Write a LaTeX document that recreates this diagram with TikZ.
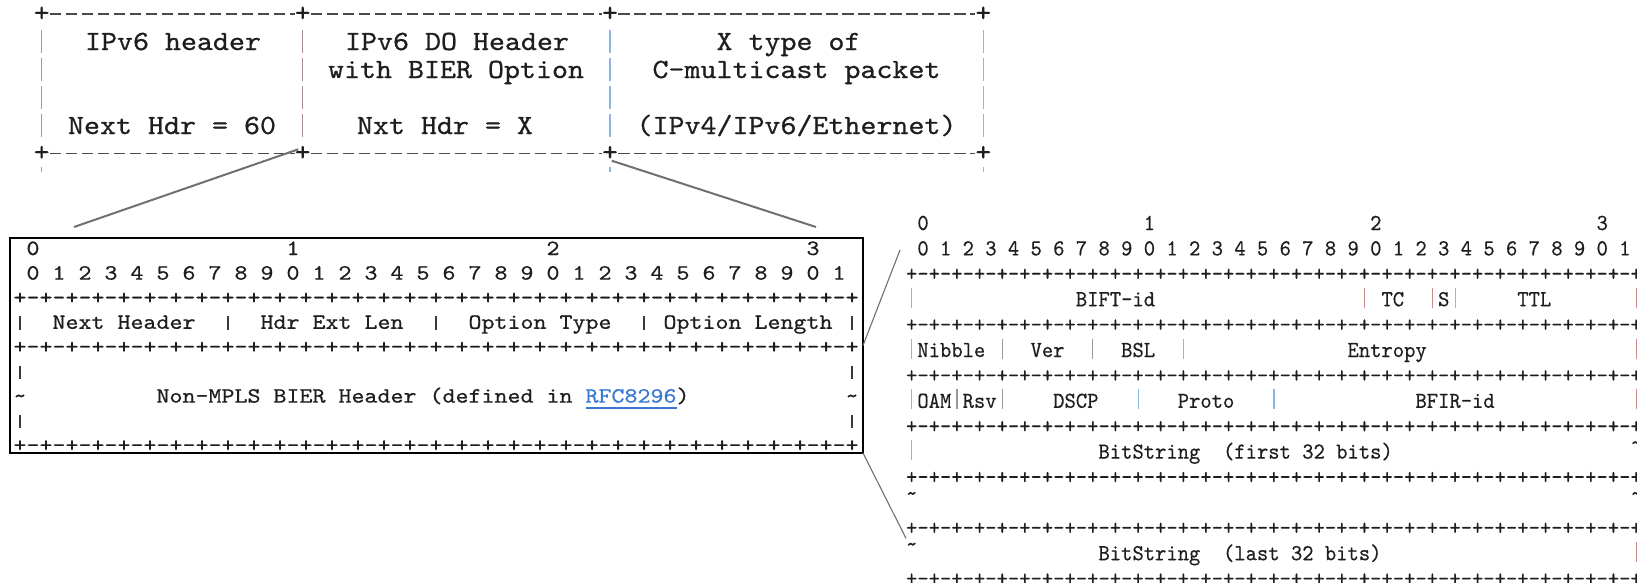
\documentclass[tikz,border=0pt]{standalone}
\usepackage{fontspec}
\newfontfamily\topfont[Extension=.otf, FakeStretch=1.096, FakeBold=0.7]{lmmono10-regular}
\newfontfamily\midfont[Extension=.otf, FakeStretch=1.136, FakeBold=0.7]{lmmono10-regular}
\newfontfamily\rtfont[Extension=.otf, FakeStretch=0.9415, FakeBold=0.4]{lmmono10-regular}
\definecolor{txt}{HTML}{1E1E1E}
\definecolor{rulec}{HTML}{4A4A4A}
\definecolor{conn}{HTML}{707070}
\definecolor{link}{HTML}{3A78D4}
\definecolor{barR}{HTML}{C98A8A}
\definecolor{barP}{HTML}{A88A9E}
\definecolor{barB}{HTML}{8FB6E4}
\definecolor{barT}{HTML}{D8A66E}
\definecolor{barG}{HTML}{9A9A9A}
\definecolor{barM}{HTML}{3A3A3A}
\tikzset{
  ttxt/.style={inner sep=0pt, outer sep=0pt, text=txt, font=\fontsize{27.8}{32}\topfont},
  mtxt/.style={anchor=base west, inner sep=0pt, outer sep=0pt, text=txt, font=\fontsize{21.8}{26}\midfont},
  rtxt/.style={anchor=base west, inner sep=0pt, outer sep=0pt, text=txt, font=\fontsize{22.9}{26}\rtfont},
  toprule/.style={draw=rulec, line width=1.6pt, dash pattern=on 11.5pt off 4.5pt},
  bigconn/.style={draw=conn, line width=2pt},
  smallconn/.style={draw=conn, line width=1.1pt},
  vbar/.style={line width=1.3pt},
  rbar/.style={line width=1.1pt},
  boxframe/.style={draw=black, line width=1.8pt, inner sep=0pt, outer sep=0pt, anchor=north west},
}
\newcounter{tn}
\newcommand\Mt[3]{\stepcounter{tn}\node[mtxt] (m\arabic{tn}) at ({13.5+(#1)*13},{255+(#2)*24.6}) {#3};}
\newcommand\Rt[3]{\stepcounter{tn}\node[rtxt] (r\arabic{tn}) at ({906.04+(#1)*11.32},{230+(#2)*25.4}) {#3};}
\newcommand\Mb[2]{\draw[vbar, barM] ({20+(#1)*13},{255+(#2)*24.6-12.5}) -- ++(0,13.3);}
\newcommand\Rb[3]{\draw[rbar, #3] ({911.7+(#1)*11.32},{230+(#2)*25.4-18.5}) -- ++(0,20);}
\newcommand\Tb[2]{\draw[vbar, #2] (#1,30) -- (#1,53) (#1,58) -- (#1,81) (#1,86) -- (#1,109) (#1,114) -- (#1,137) (#1,167) -- (#1,172);}
\newcommand\dashoct{-+-+-+-+-+-+-+-+}
\newcommand\dashrow{+\dashoct\dashoct\dashoct\dashoct}
\newcommand\tld{\textasciitilde}
\newcommand\rtld{\raisebox{9pt}{\textasciitilde}}
\begin{document}
\begin{tikzpicture}[x=1pt,y=-1pt]
\useasboundingbox (0,0) rectangle (1637,582);
% ---------- top table ----------
\foreach \n/\x in {1/41.7,2/302.7,3/610,4/983.3}{
  \node[ttxt] (tpt\n) at (\x,14) {+};
  \node[ttxt] (tpb\n) at (\x,153.3) {+};
}
\foreach \a/\b in {1/2,2/3,3/4}{
  \draw[toprule] ([xshift=8pt]tpt\a.center) -- ([xshift=-8pt]tpt\b.center);
  \draw[toprule] ([xshift=8pt]tpb\a.center) -- ([xshift=-8pt]tpb\b.center);
}
\Tb{41.7}{barR}
\draw[vbar, barP] (302.7,30) -- (302.7,53) (302.7,58) -- (302.7,81) (302.7,86) -- (302.7,109) (302.7,114) -- (302.7,137);
\Tb{610}{barB}
\Tb{983.3}{barB}
\node[ttxt, anchor=base] (t1) at (173,50) {IPv6 header};
\node[ttxt, anchor=base] (t2) at (457,50) {IPv6 DO Header};
\node[ttxt, anchor=base] (t3) at (456,78) {with BIER Option};
\node[ttxt, anchor=base] (t4) at (172,134) {Next Hdr = 60};
\node[ttxt, anchor=base west] (t5) at (357,134) {Nxt Hdr = X};
\node[ttxt, anchor=base] (t6) at (788.5,50) {X type of};
\node[ttxt, anchor=base] (t7) at (796.5,78) {C-multicast packet};
\node[ttxt, anchor=base] (t8) at (796.5,134) {(IPv4/IPv6/Ethernet)};
% ---------- middle box ----------
\node[boxframe, minimum width=853pt, minimum height=215pt] (midbox) at (10,238) {};
\Mt{1}{0}{0}\Mt{21}{0}{1}\Mt{41}{0}{2}\Mt{61}{0}{3}
\foreach \i in {0,...,31}{\pgfmathtruncatemacro\dg{mod(\i,10)}\Mt{1+2*\i}{1}{\dg}}
\Mt{0}{2}{\dashrow}\Mt{0}{4}{\dashrow}\Mt{0}{8}{\dashrow}
\Mb{0}{3}\Mb{16}{3}\Mb{32}{3}\Mb{48}{3}\Mb{64}{3}
\Mt{3}{3}{Next}\Mt{8}{3}{Header}\Mt{19}{3}{Hdr}\Mt{23}{3}{Ext}\Mt{27}{3}{Len}
\Mt{35}{3}{Option}\Mt{42}{3}{Type}\Mt{50}{3}{Option}\Mt{57}{3}{Length}
\Mb{0}{5}\Mb{64}{5}
\Mt{0}{6}{\tld}\Mt{64}{6}{\tld}
\Mt{11}{6}{Non-MPLS}\Mt{20}{6}{BIER}\Mt{25}{6}{Header}\Mt{32}{6}{(defined}\Mt{41}{6}{in}
\node[mtxt, text=link] (rfc) at ({13.5+44*13},{255+6*24.6}) {RFC8296};
\draw[draw=link, line width=1.5pt] ([yshift=-5.5pt]rfc.base west) -- ([yshift=-5.5pt]rfc.base east);
\Mt{51}{6}{)}
\Mb{0}{7}\Mb{64}{7}
% ---------- right table ----------
\Rt{1}{0}{0}\Rt{21}{0}{1}\Rt{41}{0}{2}\Rt{61}{0}{3}
\foreach \i in {0,...,31}{\pgfmathtruncatemacro\dg{mod(\i,10)}\Rt{1+2*\i}{1}{\dg}}
\foreach \k in {2,4,6,8,10,12,14}{\Rt{0}{\k}{\dashrow}}
\Rb{0}{3}{barT}\Rb{40}{3}{barR}\Rb{46}{3}{barR}\Rb{48}{3}{barB}\Rb{64}{3}{barR}
\Rt{15}{3}{BIFT-id}\Rt{42}{3}{TC}\Rt{47}{3}{S}\Rt{54}{3}{TTL}
\Rb{0}{5}{barT}\Rb{8}{5}{barG}\Rb{16}{5}{barG}\Rb{24}{5}{barB}\Rb{64}{5}{barR}
\Rt{1}{5}{Nibble}\Rt{11}{5}{Ver}\Rt{19}{5}{BSL}\Rt{39}{5}{Entropy}
\Rb{0}{7}{barT}\Rb{4}{7}{barG}\Rb{8}{7}{barG}\Rb{20}{7}{barB}\Rb{32}{7}{barB}\Rb{64}{7}{barR}
\Rt{1}{7}{OAM}\Rt{5}{7}{Rsv}\Rt{13}{7}{DSCP}\Rt{24}{7}{Proto}\Rt{45}{7}{BFIR-id}
\Rb{0}{9}{barT}
\Rt{17}{9}{BitString}\Rt{28}{9}{(first}\Rt{35}{9}{32}\Rt{38}{9}{bits)}\Rt{64}{9}{\rtld}
\Rt{0}{11}{\rtld}\Rt{64}{11}{\rtld}
\Rt{0}{13}{\rtld}\Rt{17}{13}{BitString}\Rt{28}{13}{(last}\Rt{34}{13}{32}\Rt{37}{13}{bits)}
\Rb{64}{13}{barR}
% ---------- connectors ----------
\coordinate (l1a) at (298.3,149.3);
\coordinate (l1b) at (74,227);
\coordinate (l2a) at (611.7,160.7);
\coordinate (l2b) at (816,227);
\coordinate (l3b) at (900,250);
\coordinate (l4b) at (906,538.3);
\draw[bigconn] (l1a) -- (l1b);
\draw[bigconn] (l2a) -- (l2b);
\draw[smallconn] (midbox.east) -- (l3b);
\draw[smallconn] (midbox.south east) -- (l4b);
\end{tikzpicture}
\end{document}
